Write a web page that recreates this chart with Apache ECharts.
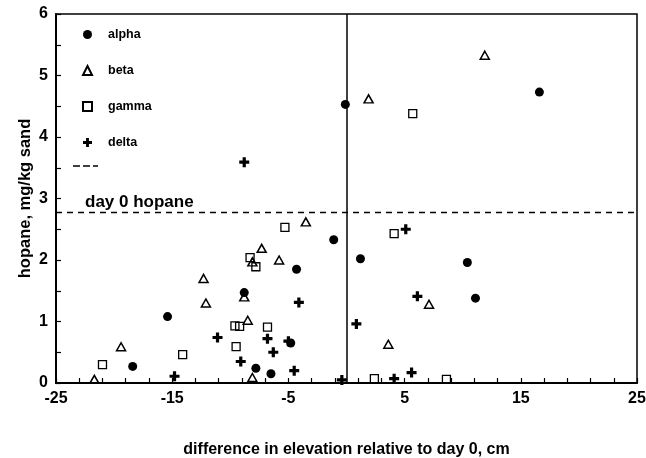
<!DOCTYPE html>
<html>
<head>
<meta charset="utf-8">
<script src="https://cdn.jsdelivr.net/npm/echarts@6/dist/echarts.min.js"></script>
<style>
html,body{margin:0;padding:0;background:#fff;}
#chart{width:646px;height:458px;}
</style>
</head>
<body>
<div id="chart"></div>
<script>
// ---- data ----
var alphaX = [-0.1, 16.6, -1.1, 1.2, -4.3, -8.8, -15.4, -4.8, -7.8, -6.5, -18.4, 10.4, 11.1];
var alphaY = [4.53, 4.73, 2.33, 2.02, 1.85, 1.47, 1.08, 0.65, 0.24, 0.15, 0.27, 1.96, 1.38];

var betaX = [11.9, 1.9, -3.5, -7.3, -5.8, -8.1, -12.3, -12.1, -8.8, -8.5, -19.4, -21.7, -8.1, 7.1, 3.6];
var betaY = [5.33, 4.62, 2.62, 2.19, 2.0, 1.97, 1.70, 1.30, 1.40, 1.02, 0.59, 0.06, 0.09, 1.28, 0.63];

var gammaX = [5.7, -5.3, -8.3, -7.8, -9.6, -9.2, -6.8, -9.5, -14.1, -21.0, 4.1, 2.4, 8.6];
var gammaY = [4.38, 2.53, 2.04, 1.89, 0.93, 0.92, 0.91, 0.59, 0.46, 0.30, 2.43, 0.07, 0.06];

var deltaX = [-8.8, -4.1, 0.85, -11.1, -6.8, -6.3, -5.0, -9.1, -14.8, -4.5, -0.4, 5.1, 6.1, 4.1, 5.6];
var deltaY = [3.59, 1.31, 0.96, 0.74, 0.72, 0.50, 0.68, 0.35, 0.11, 0.20, 0.05, 2.50, 1.41, 0.07, 0.17];

var refLineX = 0;          // vertical reference (day 0 elevation)
var day0Hopane = 2.78;     // day 0 hopane level
var day0Label = 'day 0 hopane';

var seriesNames = ['alpha', 'beta', 'gamma', 'delta'];
var xTickValues = [-25,-23,-21,-19,-17,-15,-13,-11,-9,-7,-5,-3,-1,1,3,5,7,9,11,13,15,17,19,21,23,25];
var xLabelValues = [-25, -15, -5, 5, 15, 25];
var yTickValues = [0,0.5,1,1.5,2,2.5,3,3.5,4,4.5,5,5.5,6];
var yLabelValues = [0, 1, 2, 3, 4, 5, 6];
var xTitle = 'difference in elevation relative to day 0, cm';
var yTitle = 'hopane, mg/kg sand';

function pairs(xs, ys) { return xs.map(function (x, i) { return [x, ys[i]]; }); }

var FONT = '"Liberation Sans", Arial, Helvetica, sans-serif';
var plusPath = 'path://M3.4,0h3.2v3.4h3.4v3.2h-3.4v3.4h-3.2v-3.4h-3.4v-3.2h3.4z';
var dashIcon = 'path://M0,0h7v1.6h-7z M10,0h7v1.6h-7z M20,0h5v1.6h-5z';

var chart = echarts.init(document.getElementById('chart'), null, {renderer: 'canvas'});
chart.setOption({
  animation: false,
  backgroundColor: '#fff',
  textStyle: {fontFamily: FONT},
  grid: {
    left: 56, right: 9, top: 14, bottom: 75,
    outerBoundsMode: 'none', containLabel: false,
    show: true, borderColor: '#000', borderWidth: 1.5, backgroundColor: 'transparent'
  },
  legend: [{
    orient: 'vertical',
    left: 82, top: 28,
    padding: 0,
    itemWidth: 9, itemHeight: 9, itemGap: 23,
    data: seriesNames,
    selectedMode: false,
    textStyle: {fontFamily: FONT, fontWeight: 'bold', fontSize: 12.5, color: '#000', padding: [0,0,0,11]}
  }, {
    orient: 'vertical',
    left: 73, top: 161,
    padding: 0,
    itemWidth: 25, itemHeight: 2,
    data: [{name: ' ', icon: dashIcon}],
    selectedMode: false,
    textStyle: {fontSize: 10, color: '#000'}
  }],
  xAxis: {
    type: 'value', min: -25, max: 25,
    name: xTitle, nameLocation: 'middle', nameGap: 59, nameMoveOverlap: false,
    nameTextStyle: {fontFamily: FONT, fontWeight: 'bold', fontSize: 16, color: '#000'},
    axisLine: {show: true, onZero: false, lineStyle: {color: '#000', width: 2}},
    axisTick: {show: true, inside: true, length: 5, customValues: xTickValues, lineStyle: {color: '#000', width: 1.2}},
    axisLabel: {customValues: xLabelValues, fontFamily: FONT, fontWeight: 'bold', fontSize: 16, color: '#000', margin: 8},
    splitLine: {show: false}
  },
  yAxis: {
    type: 'value', min: 0, max: 6,
    name: yTitle, nameLocation: 'middle', nameGap: 22, nameRotate: 90, nameMoveOverlap: false,
    nameTextStyle: {fontFamily: FONT, fontWeight: 'bold', fontSize: 16.5, color: '#000'},
    axisLine: {show: true, onZero: false, lineStyle: {color: '#000', width: 2}},
    axisTick: {show: true, inside: true, length: 5, customValues: yTickValues, lineStyle: {color: '#000', width: 1.2}},
    axisLabel: {customValues: yLabelValues, fontFamily: FONT, fontWeight: 'bold', fontSize: 16, color: '#000', margin: 8},
    splitLine: {show: false}
  },
  series: [
    {
      name: ' ', type: 'line', data: [], symbol: 'none', silent: true,
      lineStyle: {color: '#000', width: 1.3, type: [5, 4]},
      itemStyle: {color: '#000'},
      markLine: {
        silent: true, symbol: ['none', 'none'], animation: false,
        data: [
          {xAxis: refLineX, lineStyle: {color: '#000', width: 1.5, type: 'solid'}, label: {show: false}},
          {yAxis: day0Hopane, lineStyle: {color: '#000', width: 1.3, type: [6, 5]},
           label: {show: true, position: 'insideStartTop', formatter: day0Label, distance: 1,
                   padding: [0, 0, 0, 28],
                   fontFamily: FONT, fontWeight: 'bold', fontSize: 17, color: '#000'}}
        ]
      }
    },
    {
      name: 'alpha', type: 'scatter', data: pairs(alphaX, alphaY),
      symbol: 'circle', symbolSize: 9,
      itemStyle: {color: '#000', opacity: 1}
    },
    {
      name: 'beta', type: 'scatter', data: pairs(betaX, betaY),
      symbol: 'triangle', symbolSize: [9, 8],
      itemStyle: {color: 'rgba(255,255,255,0)', borderColor: '#000', borderWidth: 1.5, opacity: 1}
    },
    {
      name: 'gamma', type: 'scatter', data: pairs(gammaX, gammaY),
      symbol: 'rect', symbolSize: 8,
      itemStyle: {color: 'rgba(255,255,255,0)', borderColor: '#000', borderWidth: 1.3, opacity: 1}
    },
    {
      name: 'delta', type: 'scatter', data: pairs(deltaX, deltaY),
      symbol: plusPath, symbolSize: 10, symbolKeepAspect: true,
      itemStyle: {color: '#000', opacity: 1}
    }
  ]
});
</script>
</body>
</html>
